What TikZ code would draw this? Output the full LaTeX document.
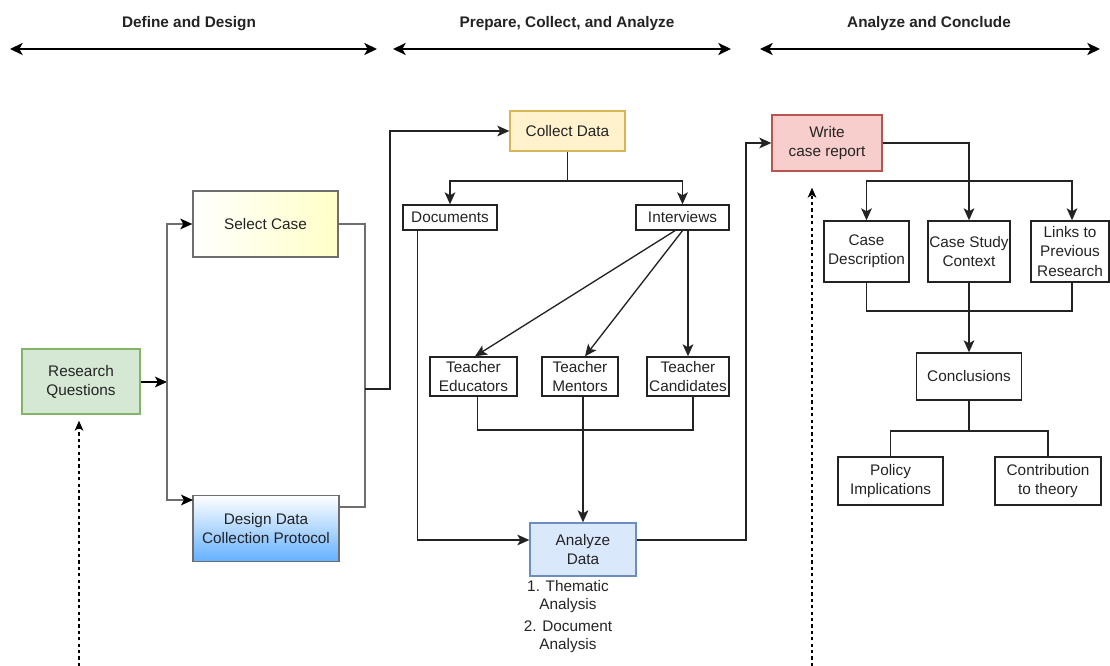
\documentclass[tikz,border=0pt]{standalone}
\usepackage{fontspec}
\setmainfont{Liberation Sans}
\usetikzlibrary{arrows.meta,calc}

\definecolor{ink}{RGB}{35,35,35}
\definecolor{greyline}{RGB}{110,110,110}
\definecolor{rqfill}{HTML}{D5E8D4}
\definecolor{rqline}{HTML}{82B366}
\definecolor{colfill}{HTML}{FFF2CC}
\definecolor{colline}{HTML}{D6B656}
\definecolor{anfill}{HTML}{DAE8FC}
\definecolor{anline}{HTML}{6C8EBF}
\definecolor{wrfill}{HTML}{F8CECC}
\definecolor{wrline}{HTML}{B85450}
\definecolor{selright}{HTML}{FFFFC8}
\definecolor{dsnbottom}{RGB}{100,176,255}

\tikzset{
  txt/.style={font=\fontsize{11.5}{14.3}\selectfont, text=ink, align=center, inner sep=0pt},
  head/.style={font=\bfseries\fontsize{11.5}{14.3}\selectfont, text=ink, inner sep=0pt},
  box/.style={txt, draw=ink, line width=1pt, rectangle},
  sz/.style 2 args={minimum width=#1*0.75pt, minimum height=#2*0.75pt},
  headtip/.tip={Stealth[length=9.5pt,width=9pt,inset=2.5pt]},
  linetip/.tip={Stealth[length=9pt,width=8pt,inset=2.2pt]},
  span/.style={draw=black, line width=1.5pt, headtip-headtip},
  lnk/.style={draw=ink, line width=1pt},
  lnkA/.style={lnk, -linetip},
  glnk/.style={draw=greyline, line width=1.1pt},
  glnkA/.style={glnk, -{linetip[color=black]}},
  thicklnk/.style={draw=black, line width=1.6pt, -linetip},
  dotline/.style={draw=black, line width=1pt, dash pattern=on 2.4pt off 2.4pt,
                  -{Stealth[length=7.5pt,width=6.5pt,inset=2pt]}}
}

\begin{document}
\begin{tikzpicture}[x=0.75pt,y=-0.75pt]
\useasboundingbox (0,0) rectangle (1110,666);

% phase headings with their span arrows
\node[head] (h1) at (189,23.5) {Define and Design};
\node[head] (h2) at (567,23.5) {Prepare, Collect, and Analyze};
\node[head] (h3) at (929,23.5) {Analyze and Conclude};
\coordinate (h1l) at (10,49);  \coordinate (h1r) at (377,49);
\coordinate (h2l) at (393,49); \coordinate (h2r) at (731,49);
\coordinate (h3l) at (760,49); \coordinate (h3r) at (1100,49);
\draw[span] (h1l) -- (h1r);
\draw[span] (h2l) -- (h2r);
\draw[span] (h3l) -- (h3r);

% define and design
\node[box, sz={118}{65}, draw=rqline, fill=rqfill] (rq) at (81,381.5) {Research\\Questions};
\node[box, sz={145}{66}, draw=greyline, left color=white, right color=selright] (sel) at (265.5,224) {Select Case};
\node[box, sz={146}{66}, draw=greyline, top color=white, bottom color=dsnbottom] (dsn) at (266,528.5) {Design Data\\Collection Protocol};

% prepare, collect and analyze
\node[box, sz={115}{40}, draw=colline, fill=colfill] (col) at (567.5,131) {Collect Data};
\node[box, sz={94}{25}] (doc) at (450,217.5) {Documents};
\node[box, sz={93}{25}] (int) at (682.5,217.5) {Interviews};
\node[box, sz={87}{39}] (edu) at (473.5,376.5) {Teacher\\Educators};
\node[box, sz={76}{39}] (men) at (580,376.5) {Teacher\\Mentors};
\node[box, sz={82}{39}] (can) at (688,376.5) {Teacher\\Candidates};
\node[box, sz={106}{53}, draw=anline, fill=anfill] (ana) at (583,549.5) {Analyze\\Data};
\node[txt, font=\fontsize{11.5}{13.5}\selectfont] (steps) at (568,617) {1. Thematic\\Analysis\\[3pt]2. Document\\Analysis};

% analyze and conclude
\node[box, sz={110}{56}, draw=wrline, fill=wrfill] (wr) at (827,143) {Write\\case report};
\node[box, sz={85}{61}] (cdesc) at (866.5,251.5) {Case\\Description};
\node[box, sz={82}{61}] (cctx) at (969,251.5) {Case Study\\Context};
\node[box, sz={78}{61}] (links) at (1070,251.5) {Links to\\Previous\\Research};
\node[box, sz={105}{47}] (conc) at (969,376.5) {Conclusions};
\node[box, sz={105}{48}] (pol) at (890.5,481) {Policy\\Implications};
\node[box, sz={106}{48}] (contr) at (1048,481) {Contribution\\to theory};

% connectors: define and design
\coordinate (lj) at (167,382);
\coordinate (dsnin) at (193,500);
\coordinate (dsnout) at (339,507);
\coordinate (rj) at (365,389);
\coordinate (rj2) at (390,389);
\draw[thicklnk] (rq.east |- lj) -- (lj);
\draw[glnkA] (lj) |- (sel.west);
\draw[glnkA] (lj) |- (dsnin);
\draw[glnk] (sel.east) -| (rj);
\draw[glnk] (dsnout) -| (rj);
\draw[lnkA] (rj) -- (rj2) |- (col.west);

% connectors: collection and analysis
\coordinate (cj) at (567.5,181);
\draw[lnk] (col.south) -- (cj);
\draw[lnkA] (cj) -| (doc.north);
\draw[lnkA] (cj) -| (int.north);
\draw[lnkA] ($(int.south)+(-7.5,0)$) -- ($(edu.north)+(1.5,0)$);
\draw[lnkA] (int.south) -- ($(men.north)+(5,0)$);
\draw[lnkA] (can.north |- int.south) -- (can.north);
\coordinate (tj) at (583,430);
\draw[lnk] ($(edu.south)+(4,0)$) |- (tj);
\draw[lnk] ($(can.south)+(5,0)$) |- (tj);
\draw[lnkA] ($(men.south)+(3,0)$) -- (ana.north);
\draw[lnkA] ($(doc.south west)+(15,0)$) |- ($(ana.west)+(0,-9.5)$);
\coordinate (aj) at (746,143);
\draw[lnkA] ($(ana.east)+(0,-9.5)$) -| (aj) -- (wr.west);

% connectors: report and conclusions
\coordinate (bj) at (969,181);
\draw[lnkA] (wr.east) -| (cctx.north);
\draw[lnkA] (bj) -| (cdesc.north);
\draw[lnkA] (bj) -| ($(links.north)+(2,0)$);
\coordinate (cj2) at (969,311);
\draw[lnk] (cdesc.south) |- (cj2);
\draw[lnk] ($(links.south)+(2,0)$) |- (cj2);
\draw[lnkA] (cctx.south) -- (conc.north);
\coordinate (kj) at (969,431);
\draw[lnk] (conc.south) -- (kj);
\draw[lnk] (kj) -| (pol.north);
\draw[lnk] (kj) -| (contr.north);

% dotted feedback arrows
\coordinate (d1) at (79,666);
\coordinate (d2) at (812,666);
\draw[dotline] (d1) -- ($(rq.south)+(-2,6)$);
\draw[dotline] (d2) -- ($(wr.south)+(-15,16)$);
\end{tikzpicture}
\end{document}
